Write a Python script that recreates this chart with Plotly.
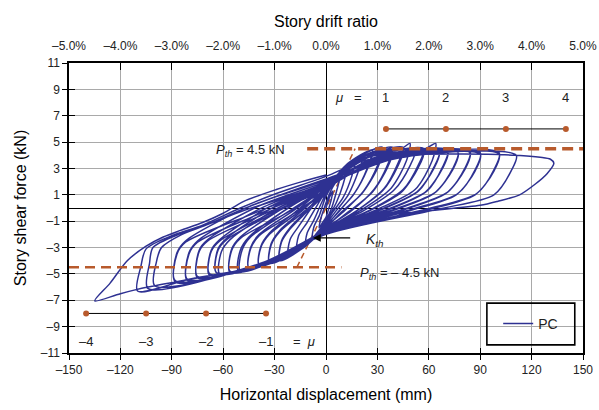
import plotly.graph_objects as go

# ---- hysteresis record: horizontal displacement (mm) and story shear (kN), one cycle per row ----
disp_mm = [
    0, 2, 4, 3, 1, 0, -2, -4, -3, -1,
    0, 4, 8, 6, 3, 0, -4, -8, -7, -4,
    0, 6, 12, 10, 6, 0, -6, -12, -11, -7,
    0, 8, 17, 15, 10, 4, 0, -8, -17, -16, -11,
    0, 10, 22, 19, 13, 6, 0, -10, -22, -21, -16,
    -8, 0, 12, 27, 24, 17, 8, 0, -12, -27, -26, -21,
    -12, 0, 13, 27, 24, 16, 7, 0, -13, -27, -26, -21,
    -10, 0, 14, 33, 30, 22, 10, 0, -15, -33, -32, -27,
    -15, 0, 15, 33, 30, 21, 9, 0, -16, -33, -32, -27,
    -13, 0, 16, 39, 36, 28, 14, 0, -18, -39, -38, -33,
    -18, 0, 17, 39, 36, 27, 13, 0, -19, -39, -38, -33,
    -16, 0, 18, 45, 42, 34, 18, 0, -20, -45, -44, -39,
    -21, 0, 19, 45, 42, 33, 17, 0, -21, -45, -44, -39,
    -18, 0, 20, 44, 49, 47, 38, 20, 0, -22, -50, -49, -44,
    -20, 0, 22, 52, 49, 40, 22, 0, -24, -51, -50, -45,
    -22, 0, 24, 57, 54, 45, 25, 0, -25, -56, -55, -50,
    -26, 0, 25, 57, 54, 44, 24, 0, -26, -56, -55, -50,
    -25, 0, 26, 58, 64, 62, 52, 30, 0, -28, -62, -61, -56,
    -28, 0, 28, 66, 63, 54, 32, 0, -30, -64, -63, -58,
    -32, 0, 29, 66, 63, 53, 31, 0, -31, -64, -63, -58,
    -30, 0, 30, 71, 68, 59, 36, 0, -32, -68, -67, -62,
    -34, 0, 31, 71, 68, 58, 35, 0, -33, -68, -67, -62,
    -33, 0, 32, 77, 74, 64, 40, 0, -34, -75, -74, -69,
    -37, 0, 33, 77, 74, 63, 39, 0, -35, -75, -74, -69,
    -36, 0, 34, 84, 81, 71, 45, 0, -36, -81, -80, -75,
    -40, 0, 35, 84, 81, 70, 44, 0, -37, -81, -80, -75,
    -40, 0, 36, 90, 87, 77, 50, 0, -38, -88, -87, -82,
    -44, 0, 37, 90, 87, 76, 49, 0, -39, -88, -87, -82,
    -45, 0, 38, 101, 98, 88, 58, 0, -40, -104, -103, -101, -86, -70,
    -48, 0, 39, 101, 98, 87, 57, 0, -41, -100, -99, -96, -84, -70,
    -45, 0, 40, 111, 108, 98, 65, 0, -40, -80, -110, -108, -105, -90, -72,
    -50, -29, 0, 20, 40, 80, 111, 125, 131, 133, 129, 122, 113, 100, 90, 60, 30, 14, 0,
    -7, -15, -30, -44, -62, -81, -104, -120, -135,
    -126, -116, -105, -95, -85, -72, -60, -48, -29, -14, 0,
]
force_kn = [
    0.0, 0.8, 1.3, 0.6, -0.3, -0.7, -1.1, -1.5, -0.8, 0.0,
    0.4, 1.6, 2.3, 1.2, -0.1, -0.9, -1.7, -2.3, -1.4, -0.6,
    0.9, 2.2, 3.0, 1.8, 0.4, -1.0, -2.0, -2.9, -1.9, -0.9,
    1.1, 2.6, 3.6, 2.4, 0.8, -0.3, -1.1, -2.3, -3.3, -2.1, -1.1,
    1.3, 3.0, 4.1, 2.8, 1.0, -0.2, -1.2, -2.6, -3.7, -2.4, -1.4,
    0.1, 1.4, 3.3, 4.4, 3.0, 1.2, -0.2, -1.3, -2.9, -4.0, -2.6, -1.6,
    -0.4, 1.1, 3.1, 4.2, 2.9, 1.0, -0.3, -1.4, -3.0, -3.9, -2.5, -1.5,
    0.0, 1.5, 3.5, 4.6, 3.2, 1.3, -0.3, -1.4, -3.1, -4.2, -2.8, -1.8,
    -0.5, 1.2, 3.3, 4.4, 3.0, 1.1, -0.3, -1.5, -3.2, -4.1, -2.7, -1.7,
    -0.1, 1.6, 3.6, 4.6, 3.3, 1.4, -0.3, -1.5, -3.3, -4.4, -3.0, -2.0,
    -0.5, 1.3, 3.4, 4.4, 3.1, 1.2, -0.3, -1.6, -3.4, -4.3, -2.9, -1.9,
    -0.1, 1.7, 3.7, 4.6, 3.4, 1.5, -0.2, -1.6, -3.4, -4.6, -3.1, -2.1,
    -0.6, 1.3, 3.5, 4.4, 3.2, 1.3, -0.3, -1.7, -3.5, -4.5, -3.0, -2.0,
    -0.1, 1.7, 3.8, 4.5, 4.9, 3.6, 1.5, -0.2, -1.6, -3.5, -4.8, -3.2, -2.2,
    -0.1, 1.6, 3.7, 4.4, 3.2, 1.4, -0.2, -1.6, -3.6, -4.8, -3.2, -2.2,
    0.0, 1.7, 3.8, 4.5, 3.3, 1.4, -0.2, -1.6, -3.7, -4.9, -3.2, -2.3,
    -0.6, 1.4, 3.6, 4.3, 3.1, 1.2, -0.3, -1.7, -3.8, -4.8, -3.1, -2.2,
    0.0, 1.8, 3.9, 4.5, 4.9, 3.6, 1.4, -0.1, -1.7, -3.8, -5.0, -3.3, -2.4,
    0.0, 1.7, 3.8, 4.3, 3.1, 1.3, -0.1, -1.7, -3.8, -4.9, -3.2, -2.4,
    -0.5, 1.5, 3.6, 4.2, 3.0, 1.2, -0.2, -1.8, -3.9, -4.9, -3.1, -2.3,
    0.1, 1.8, 3.9, 4.4, 3.1, 1.3, -0.1, -1.7, -3.9, -5.1, -3.3, -2.5,
    -0.5, 1.5, 3.7, 4.2, 3.0, 1.2, -0.2, -1.8, -4.0, -5.0, -3.2, -2.4,
    0.1, 1.9, 3.9, 4.3, 3.0, 1.2, -0.1, -1.8, -4.0, -5.3, -3.3, -2.5,
    -0.5, 1.6, 3.7, 4.2, 2.9, 1.1, -0.2, -1.9, -4.1, -5.2, -3.2, -2.4,
    0.1, 1.9, 3.9, 4.3, 3.0, 1.2, -0.1, -1.8, -4.1, -5.5, -3.5, -2.6,
    -0.5, 1.7, 3.7, 4.2, 2.9, 1.1, -0.2, -1.9, -4.2, -5.4, -3.4, -2.5,
    0.1, 2.0, 3.9, 4.2, 2.9, 1.1, -0.1, -1.8, -4.2, -5.6, -3.5, -2.6,
    -0.5, 1.8, 3.7, 4.1, 2.8, 1.0, -0.2, -1.9, -4.3, -5.5, -3.4, -2.5,
    0.1, 2.1, 3.9, 4.2, 2.9, 1.1, -0.1, -1.9, -4.3, -6.1, -4.2, -3.0, -2.0, -1.3,
    -0.2, 1.8, 3.7, 4.1, 2.8, 1.0, -0.2, -2.0, -4.4, -5.9, -4.1, -3.0, -2.0, -1.3,
    0.1, 2.2, 3.9, 4.0, 2.8, 1.0, -0.1, -2.0, -4.4, -5.4, -6.3, -4.4, -3.1, -2.1, -1.3,
    0.0, 1.1, 2.4, 3.5, 4.0, 4.1, 4.0, 3.85, 3.7, 3.4, 2.6, 1.8, 1.0, 0.5, 0.2, -0.2, -0.6, -1.0, -1.8,
    -2.3, -3.0, -3.9, -4.6, -5.0, -5.45, -6.0, -6.5, -7.05,
    -5.7, -4.0, -2.9, -2.2, -1.7, -1.1, -0.4, 0.5, 1.4, 2.0, 2.5,
]

# ---- threshold lines and ductility scale ----
p_th = 4.5
p_th_pos_span = [-11, 150]
p_th_neg_span = [-150, 9]
k_th_disp = [-17, 17]
k_th_force = [-4.5, 4.5]
mu_pos_disp = [35, 70, 105, 140]
mu_neg_disp = [-140, -105, -70, -35]
mu_pos_force = 6
mu_neg_force = -8
mu_pos_labels = ["1", "2", "3", "4"]
mu_neg_labels = ["\u20134", "\u20133", "\u20132", "\u20131"]

# ---- axes ----
x_ticks = [-150, -120, -90, -60, -30, 0, 30, 60, 90, 120, 150]
x_tick_labels = ["\u2013150", "\u2013120", "\u201390", "\u201360", "\u201330", "0",
                 "30", "60", "90", "120", "150"]
y_ticks = [-11, -9, -7, -5, -3, -1, 1, 3, 5, 7, 9, 11]
y_tick_labels = ["\u201311", "\u20139", "\u20137", "\u20135", "\u20133", "\u20131",
                 "1", "3", "5", "7", "9", "11"]
drift_ticks = [-5, -4, -3, -2, -1, 0, 1, 2, 3, 4, 5]
drift_tick_labels = ["\u20135.0%", "\u20134.0%", "\u20133.0%", "\u20132.0%", "\u20131.0%",
                     "0.0%", "1.0%", "2.0%", "3.0%", "4.0%", "5.0%"]

FONT = "Liberation Sans, Arial, Helvetica, sans-serif"
BROWN = "#b85a2c"
BLUE = "#2e3192"
GRID = "#a9a9a9"

fig = go.Figure()

# secant stiffness line sits underneath the loops
fig.add_trace(go.Scatter(x=k_th_disp, y=k_th_force, mode="lines",
                         line=dict(color=BROWN, width=1.5, dash="6px,4px"),
                         showlegend=False, hoverinfo="skip"))

fig.add_trace(go.Scatter(x=disp_mm, y=force_kn, mode="lines", name="PC",
                         line=dict(color=BLUE, width=1.5, shape="spline", smoothing=0.8)))

fig.add_trace(go.Scatter(x=p_th_pos_span, y=[p_th, p_th], mode="lines",
                         line=dict(color=BROWN, width=3.5, dash="11px,6px"),
                         showlegend=False, hoverinfo="skip", cliponaxis=False))
fig.add_trace(go.Scatter(x=p_th_neg_span, y=[-p_th, -p_th], mode="lines",
                         line=dict(color=BROWN, width=2.5, dash="10px,6px"),
                         showlegend=False, hoverinfo="skip"))

for xs, yv in ((mu_pos_disp, mu_pos_force), (mu_neg_disp, mu_neg_force)):
    fig.add_trace(go.Scatter(x=xs, y=[yv] * len(xs), mode="lines+markers",
                             line=dict(color="black", width=1),
                             marker=dict(color=BROWN, size=6),
                             showlegend=False, hoverinfo="skip"))

# helper traces so the overlay axes (top drift scale, inner tick marks) are drawn
for xa, ya in (("x2", "y"), ("x3", "y"), ("x", "y2")):
    fig.add_trace(go.Scatter(x=[0], y=[0], xaxis=xa, yaxis=ya, mode="markers",
                             marker=dict(opacity=0), showlegend=False, hoverinfo="skip"))

ann_font = dict(family=FONT, size=13, color="#222")
annotations = []
for x, t in zip(mu_pos_disp, mu_pos_labels):
    annotations.append(dict(x=x, y=8.4, text=t, showarrow=False, font=ann_font))
for x, t in zip(mu_neg_disp, mu_neg_labels):
    annotations.append(dict(x=x, y=-10.1, text=t, showarrow=False, font=ann_font))
annotations += [
    dict(x=13, y=8.4, text="<i>\u03bc</i>   =", showarrow=False, font=ann_font),
    dict(x=-13, y=-10.1, text="=  <i>\u03bc</i>", showarrow=False, font=ann_font),
    dict(x=-23, y=4.4, xanchor="right", text="<i>P</i><sub><i>th</i></sub> = 4.5 kN",
         showarrow=False, font=ann_font),
    dict(x=18.5, y=-4.95, xanchor="left", text="<i>P</i><sub><i>th</i></sub> = \u2013 4.5 kN",
         showarrow=False, font=ann_font),
    dict(x=22, y=-2.45, xanchor="left", text="<i>K</i><sub><i>th</i></sub>",
         showarrow=False, font=dict(family=FONT, size=14, color="#222")),
    dict(x=-7.6, y=-2.27, ax=15, ay=-2.27, axref="x", ayref="y", text="",
         showarrow=True, arrowhead=2, arrowsize=1.3, arrowwidth=1.2, arrowcolor="black"),
]

axis_common = dict(showline=True, linecolor="black", linewidth=1.5, tickcolor="black",
                   tickwidth=1.3, automargin=False,
                   tickfont=dict(family=FONT, size=12, color="#222"))

fig.update_layout(
    width=599, height=410,
    margin=dict(l=69, r=16, t=63, b=57),
    paper_bgcolor="white", plot_bgcolor="white",
    font=dict(family=FONT, color="black"),
    annotations=annotations,
    shapes=[dict(type="rect", xref="paper", yref="paper", x0=0.813, x1=0.984,
                 y0=0.028, y1=0.172, line=dict(color="black", width=1.6))],
    legend=dict(x=0.835, y=0.1, xanchor="left", yanchor="middle", bgcolor="rgba(0,0,0,0)",
                font=dict(family=FONT, size=14, color="#222"), itemwidth=30),
    xaxis=dict(range=[-150, 150], tickmode="array", tickvals=x_ticks, ticktext=x_tick_labels,
               showgrid=True, gridcolor=GRID, gridwidth=1, zeroline=True,
               zerolinecolor="black", zerolinewidth=1.2, mirror=True, ticks="outside", ticklen=5,
               title=dict(text="Horizontal displacement (mm)", font=dict(family=FONT, size=16),
                          standoff=13),
               **axis_common),
    yaxis=dict(range=[-11, 11], tickmode="array", tickvals=y_ticks, ticktext=y_tick_labels,
               showgrid=True, gridcolor=GRID, gridwidth=1, zeroline=True,
               zerolinecolor="black", zerolinewidth=1.2, mirror=True, ticks="outside", ticklen=5,
               title=dict(text="Story shear force (kN)", font=dict(family=FONT, size=16),
                          standoff=10),
               **axis_common),
    xaxis2=dict(overlaying="x", side="top", anchor="y", range=[-5, 5], tickmode="array",
                tickvals=drift_ticks, ticktext=drift_tick_labels, showgrid=False, zeroline=False,
                ticks="inside", ticklen=7, ticklabelstandoff=6,
                title=dict(text="Story drift ratio", font=dict(family=FONT, size=16), standoff=8),
                **axis_common),
    xaxis3=dict(overlaying="x", side="bottom", anchor="y", range=[-150, 150], tickmode="array",
                tickvals=x_ticks, showticklabels=False, showgrid=False, zeroline=False,
                showline=False, ticks="inside", ticklen=5, tickcolor="black", tickwidth=1.3,
                automargin=False),
    yaxis2=dict(overlaying="y", side="left", anchor="x", range=[-11, 11], tickmode="array",
                tickvals=y_ticks, showticklabels=False, showgrid=False, zeroline=False,
                showline=False, ticks="inside", ticklen=6, tickcolor="black", tickwidth=1.3,
                automargin=False),
)

fig.write_html("out.html")
